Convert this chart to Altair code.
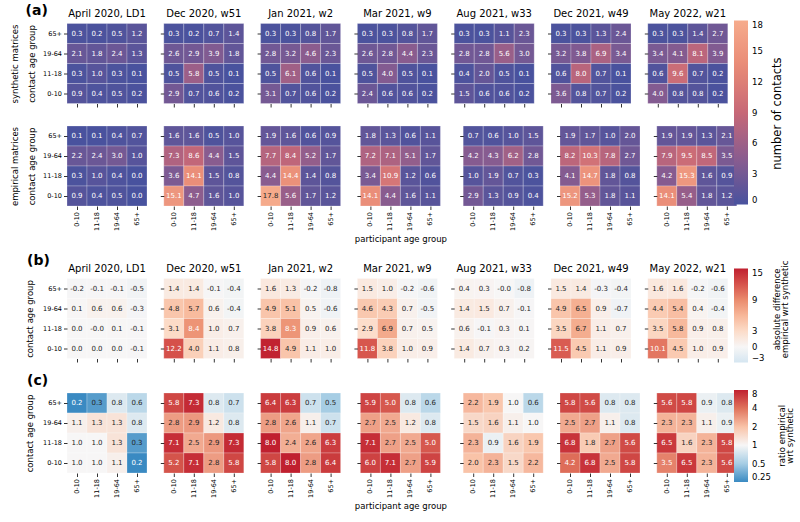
import altair as alt
import pandas as pd

# ---- data -------------------------------------------------------------
periods = ["April 2020, LD1", "Dec 2020, w51", "Jan 2021, w2", "Mar 2021, w9",
           "Aug 2021, w33", "Dec 2021, w49", "May 2022, w21"]
contact_groups = ["65+", "19-64", "11-18", "0-10"]        # matrix rows, top to bottom
participant_groups = ["0-10", "11-18", "19-64", "65+"]    # matrix columns

# one 4x4 matrix per period, rows follow contact_groups, columns participant_groups
synthetic = [
    [[0.3, 0.2, 0.5, 1.2], [2.1, 1.8, 2.4, 1.3], [0.3, 1.0, 0.3, 0.1], [0.9, 0.4, 0.5, 0.2]],
    [[0.3, 0.2, 0.7, 1.4], [2.6, 2.9, 3.9, 1.8], [0.5, 5.8, 0.5, 0.1], [2.9, 0.7, 0.6, 0.2]],
    [[0.3, 0.3, 0.8, 1.7], [2.8, 3.2, 4.6, 2.3], [0.5, 6.1, 0.6, 0.1], [3.1, 0.7, 0.6, 0.2]],
    [[0.3, 0.3, 0.8, 1.7], [2.6, 2.8, 4.4, 2.3], [0.5, 4.0, 0.5, 0.1], [2.4, 0.6, 0.6, 0.2]],
    [[0.3, 0.3, 1.1, 2.3], [2.8, 2.8, 5.6, 3.0], [0.4, 2.0, 0.5, 0.1], [1.5, 0.6, 0.6, 0.2]],
    [[0.3, 0.3, 1.3, 2.4], [3.2, 3.8, 6.9, 3.4], [0.6, 8.0, 0.7, 0.1], [3.6, 0.8, 0.7, 0.2]],
    [[0.3, 0.3, 1.4, 2.7], [3.4, 4.1, 8.1, 3.9], [0.6, 9.6, 0.7, 0.2], [4.0, 0.8, 0.8, 0.2]],
]
empirical = [
    [[0.1, 0.1, 0.4, 0.7], [2.2, 2.4, 3.0, 1.0], [0.3, 1.0, 0.4, 0.0], [0.9, 0.4, 0.5, 0.0]],
    [[1.6, 1.6, 0.5, 1.0], [7.3, 8.6, 4.4, 1.5], [3.6, 14.1, 1.5, 0.8], [15.1, 4.7, 1.6, 1.0]],
    [[1.9, 1.6, 0.6, 0.9], [7.7, 8.4, 5.2, 1.7], [4.4, 14.4, 1.4, 0.8], [17.8, 5.6, 1.7, 1.2]],
    [[1.8, 1.3, 0.6, 1.1], [7.2, 7.1, 5.1, 1.7], [3.4, 10.9, 1.2, 0.6], [14.1, 4.4, 1.6, 1.1]],
    [[0.7, 0.6, 1.0, 1.5], [4.2, 4.3, 6.2, 2.8], [1.0, 1.9, 0.7, 0.3], [2.9, 1.3, 0.9, 0.4]],
    [[1.9, 1.7, 1.0, 2.0], [8.2, 10.3, 7.8, 2.7], [4.1, 14.7, 1.8, 0.8], [15.2, 5.3, 1.8, 1.1]],
    [[1.9, 1.9, 1.3, 2.1], [7.9, 9.5, 8.5, 3.5], [4.2, 15.3, 1.6, 0.9], [14.1, 5.4, 1.8, 1.2]],
]
abs_difference = [
    [[-0.2, -0.1, -0.1, -0.5], [0.1, 0.6, 0.6, -0.3], [0.0, -0.0, 0.1, -0.1], [0.0, 0.0, 0.0, -0.1]],
    [[1.4, 1.4, -0.1, -0.4], [4.8, 5.7, 0.6, -0.4], [3.1, 8.4, 1.0, 0.7], [12.2, 4.0, 1.1, 0.8]],
    [[1.6, 1.3, -0.2, -0.8], [4.9, 5.1, 0.5, -0.6], [3.8, 8.3, 0.9, 0.6], [14.8, 4.9, 1.1, 1.0]],
    [[1.5, 1.0, -0.2, -0.6], [4.6, 4.3, 0.7, -0.5], [2.9, 6.9, 0.7, 0.5], [11.8, 3.8, 1.0, 0.9]],
    [[0.4, 0.3, -0.0, -0.8], [1.4, 1.5, 0.7, -0.1], [0.6, -0.1, 0.3, 0.1], [1.4, 0.7, 0.3, 0.2]],
    [[1.5, 1.4, -0.3, -0.4], [4.9, 6.5, 0.9, -0.7], [3.5, 6.7, 1.1, 0.7], [11.5, 4.5, 1.1, 0.9]],
    [[1.6, 1.6, -0.2, -0.6], [4.4, 5.4, 0.4, -0.4], [3.5, 5.8, 0.9, 0.8], [10.1, 4.5, 1.0, 0.9]],
]
ratio = [
    [[0.2, 0.3, 0.8, 0.6], [1.1, 1.3, 1.3, 0.8], [1.0, 1.0, 1.3, 0.3], [1.0, 1.0, 1.1, 0.2]],
    [[5.8, 7.3, 0.8, 0.7], [2.8, 2.9, 1.2, 0.8], [7.1, 2.5, 2.9, 7.3], [5.2, 7.1, 2.8, 5.8]],
    [[6.4, 6.3, 0.7, 0.5], [2.8, 2.6, 1.1, 0.7], [8.0, 2.4, 2.6, 6.3], [5.8, 8.0, 2.8, 6.4]],
    [[5.9, 5.0, 0.8, 0.6], [2.7, 2.5, 1.2, 0.8], [7.1, 2.7, 2.5, 5.0], [6.0, 7.1, 2.7, 5.9]],
    [[2.2, 1.9, 1.0, 0.6], [1.5, 1.6, 1.1, 1.0], [2.3, 0.9, 1.6, 1.9], [2.0, 2.3, 1.5, 2.2]],
    [[5.8, 5.6, 0.8, 0.8], [2.5, 2.7, 1.1, 0.8], [6.8, 1.8, 2.7, 5.6], [4.2, 6.8, 2.5, 5.8]],
    [[5.6, 5.8, 0.9, 0.8], [2.3, 2.3, 1.1, 0.9], [6.5, 1.6, 2.3, 5.8], [3.5, 6.5, 2.3, 5.6]],
]

count_ticks = [0, 3, 6, 9, 12, 15, 18]
diff_ticks = [-3, 0, 3, 9, 15]
ratio_ticks = [0.25, 0.5, 1, 2, 4, 8]

# ---- styling ----------------------------------------------------------
FONT = "DejaVu Sans"
DARK = "#262626"
SIDE = 80          # each heatmap is 4 cells of 20 px


def annotation_colour(kind, v):
    if kind == "count":
        return DARK if v >= 16 else "white"
    if kind == "diff":
        return "white" if v >= 7.5 else DARK
    return "white" if (v >= 3.2 or v <= 0.25) else DARK


def long_table(matrices, kind):
    recs = []
    for period, matrix in zip(periods, matrices):
        for contact, row in zip(contact_groups, matrix):
            for participant, v in zip(participant_groups, row):
                recs.append(dict(period=period, contact=contact, participant=participant,
                                 value=v, label=f"{v:.1f}", tc=annotation_colour(kind, v)))
    return pd.DataFrame(recs)


syn_df = long_table(synthetic, "count")
emp_df = long_table(empirical, "count")
diff_df = long_table(abs_difference, "diff")
ratio_df = long_table(ratio, "ratio")

count_scale = alt.Scale(domain=[0, 4.5, 9, 13.5, 18],
                        range=["#48529e", "#8a5c8f", "#c76877", "#e88a76", "#f6ab8c"],
                        interpolate="rgb", clamp=True)
diff_scale = alt.Scale(domain=[-3, 0, 3, 6, 9, 12, 15],
                       range=["#d5e6f1", "#f7f6f6", "#fcdcc9", "#f7b799", "#ea8b6d", "#d6534c", "#c0202f"],
                       interpolate="rgb", clamp=True)
ratio_scale = alt.Scale(type="log", domain=[0.25, 0.5, 1, 2, 4, 8],
                        range=["#3a8ac2", "#a6cde4", "#f7f6f6", "#f9c3a8", "#e0735c", "#c0202f"],
                        interpolate="rgb", clamp=True)

LEGEND_X = 667


def colourbar(values, fmt, length, y):
    return alt.Legend(
        title=None, orient="none", legendX=LEGEND_X, legendY=y, direction="vertical",
        gradientLength=length, gradientThickness=14, gradientStrokeWidth=0,
        values=values, format=fmt, labelFontSize=8.5, labelFont=FONT, labelColor="black",
        labelOffset=4,
    )


count_legend = colourbar(count_ticks, "d", 184, -3)
diff_legend = colourbar(diff_ticks, "d", 94, -10)
ratio_legend = colourbar(ratio_ticks, "~g", 92, -3)


def bar_title(text, size, line_height, dx, offset):
    return alt.TitleParams(text, orient="right", angle=270, anchor="middle", fontSize=size,
                           lineHeight=line_height, font=FONT, fontWeight="normal",
                           color="black", offset=offset, dx=dx)


def letter_title(text, offset, dx, dy=0):
    return alt.TitleParams(text, orient="top", anchor="start", frame="bounds", fontSize=14,
                           font=FONT, fontWeight="bold", color="black",
                           offset=offset, dx=dx, dy=dy)


band = alt.Scale(paddingInner=0, paddingOuter=0)


def panel(table, idx, scale, legend, title=None, y_title=None, x_labels=False,
          x_title=None, y_title_x=None):
    period = periods[idx]
    data = table[table.period == period]
    if x_labels:
        x_axis = alt.Axis(labelAngle=270, title=x_title, titleFontSize=8.5,
                          titleFontWeight="normal", titlePadding=4)
    else:
        x_axis = alt.Axis(labels=False, title=None)
    if idx == 0:
        opts = dict(title=y_title, titleFontSize=8.5, titleFontWeight="normal")
        if y_title_x is None:
            opts.update(titleLineHeight=17, titlePadding=6)
        else:
            opts.update(titleX=y_title_x)
        y_axis = alt.Axis(**opts)
    else:
        y_axis = alt.Axis(labels=False, title=None)
    base = alt.Chart(data).encode(
        x=alt.X("participant:O", sort=participant_groups, axis=x_axis, scale=band),
        y=alt.Y("contact:O", sort=contact_groups, axis=y_axis, scale=band),
    )
    cells = base.mark_rect(stroke="white", strokeWidth=0.4, strokeOpacity=0.6).encode(
        color=alt.Color("value:Q", scale=scale, legend=legend)
    )
    notes = base.mark_text(font=FONT, fontSize=7).encode(
        text="label:N", fill=alt.Fill("tc:N", scale=None)
    )
    props = dict(width=SIDE, height=SIDE)
    if title is not None:
        props["title"] = alt.TitleParams(title, fontSize=10, font=FONT,
                                         fontWeight="normal", offset=4)
    return alt.layer(cells, notes).properties(**props)


H_GAP = 11.8

row_syn = alt.hconcat(*[
    panel(syn_df, i, count_scale, count_legend, title=periods[i],
          y_title=["synthetic matrices", "contact age group"])
    for i in range(7)], spacing=H_GAP).properties(title=letter_title("(a)", 0, 15, 9))
row_emp = alt.hconcat(*[
    panel(emp_df, i, count_scale, count_legend,
          y_title=["empirical matrices", "contact age group"], x_labels=True,
          x_title="participant age group" if i == 3 else None)
    for i in range(7)], spacing=H_GAP)
row_diff = alt.hconcat(
    alt.hconcat(*[
        panel(diff_df, i, diff_scale, diff_legend, title=periods[i],
              y_title="contact age group", y_title_x=-33)
        for i in range(7)], spacing=H_GAP).properties(title=letter_title("(b)", -4, 2))
).properties(title=bar_title(["absolute difference", "empirical wrt synthetic"], 8.5, 8, -1, -8.5))
row_ratio = alt.hconcat(
    alt.hconcat(*[
        panel(ratio_df, i, ratio_scale, ratio_legend, y_title="contact age group",
              y_title_x=-33, x_labels=True,
              x_title="participant age group" if i == 3 else None)
        for i in range(7)], spacing=H_GAP).properties(title=letter_title("(c)", 5, 2))
).properties(title=bar_title(["ratio empirical", "wrt synthetic"], 8.5, 8, 6, -10))

block_a = alt.vconcat(row_syn, row_emp, spacing=17.5).properties(
    title=bar_title("number of contacts", 11.5, 13, 10, -3))
upper = alt.vconcat(block_a, row_diff, spacing=10).resolve_scale(color="independent")

chart = (
    alt.vconcat(upper, row_ratio, spacing=10.5)
    .resolve_scale(color="independent")
    .properties(padding={"left": 10, "top": 3.5, "right": 3, "bottom": 4})
    .configure_view(strokeWidth=0)
    .configure_axis(labelFont=FONT, titleFont=FONT, labelColor="black", titleColor="black",
                    tickColor="black", domain=False, tickSize=3.5, tickWidth=0.8,
                    labelFontSize=6.5, labelPadding=2)
    .configure_title(font=FONT, color="black")
)

chart.save("out.html", embed_options={"renderer": "svg", "actions": False})
